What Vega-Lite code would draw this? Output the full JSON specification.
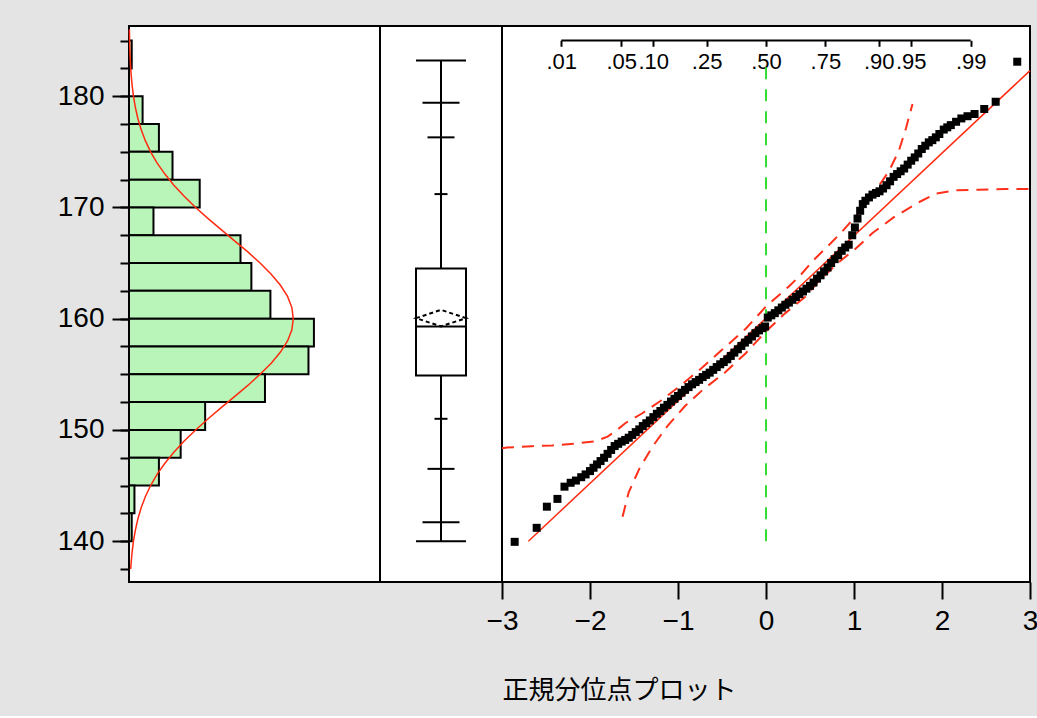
{
  "$schema": "https://vega.github.io/schema/vega-lite/v6.json",
  "background": "#e4e4e4",
  "padding": {"left": 56, "top": 25, "right": 0, "bottom": 12},
  "spacing": 0,
  "bounds": "flush",
  "datasets": {
    "hist": [
      {"lo": 182.5, "hi": 185, "count": 1},
      {"lo": 177.5, "hi": 180, "count": 5},
      {"lo": 175, "hi": 177.5, "count": 11},
      {"lo": 172.5, "hi": 175, "count": 16},
      {"lo": 170, "hi": 172.5, "count": 26},
      {"lo": 167.5, "hi": 170, "count": 9},
      {"lo": 165, "hi": 167.5, "count": 41},
      {"lo": 162.5, "hi": 165, "count": 45},
      {"lo": 160, "hi": 162.5, "count": 52},
      {"lo": 157.5, "hi": 160, "count": 68},
      {"lo": 155, "hi": 157.5, "count": 66},
      {"lo": 152.5, "hi": 155, "count": 50},
      {"lo": 150, "hi": 152.5, "count": 28},
      {"lo": 147.5, "hi": 150, "count": 19},
      {"lo": 145, "hi": 147.5, "count": 11},
      {"lo": 142.5, "hi": 145, "count": 2},
      {"lo": 140, "hi": 142.5, "count": 1}
    ],
    "curve": [
      {"v": 137.5, "density": 0.63}, {"v": 138, "density": 0.77}, {"v": 139, "density": 1.14},
      {"v": 140, "density": 1.64}, {"v": 141, "density": 2.34}, {"v": 142, "density": 3.26},
      {"v": 143, "density": 4.47}, {"v": 144, "density": 6.0}, {"v": 145, "density": 7.95},
      {"v": 146, "density": 10.3}, {"v": 147, "density": 13.2}, {"v": 148, "density": 16.5},
      {"v": 149, "density": 20.3}, {"v": 150, "density": 24.5}, {"v": 151, "density": 29.1},
      {"v": 152, "density": 33.9}, {"v": 153, "density": 38.8}, {"v": 154, "density": 43.7},
      {"v": 155, "density": 48.2}, {"v": 156, "density": 52.3}, {"v": 157, "density": 55.7},
      {"v": 158, "density": 58.3}, {"v": 159, "density": 59.9}, {"v": 160, "density": 60.4},
      {"v": 161, "density": 59.9}, {"v": 162, "density": 58.3}, {"v": 163, "density": 55.7},
      {"v": 164, "density": 52.3}, {"v": 165, "density": 48.2}, {"v": 166, "density": 43.7},
      {"v": 167, "density": 38.8}, {"v": 168, "density": 33.9}, {"v": 169, "density": 29.1},
      {"v": 170, "density": 24.5}, {"v": 171, "density": 20.3}, {"v": 172, "density": 16.5},
      {"v": 173, "density": 13.2}, {"v": 174, "density": 10.3}, {"v": 175, "density": 7.95},
      {"v": 176, "density": 6.0}, {"v": 177, "density": 4.47}, {"v": 178, "density": 3.26},
      {"v": 179, "density": 2.34}, {"v": 180, "density": 1.64}, {"v": 181, "density": 1.14},
      {"v": 182, "density": 0.77}, {"v": 183, "density": 0.51}, {"v": 184, "density": 0.34},
      {"v": 185, "density": 0.22}, {"v": 186, "density": 0.14}
    ],
    "box": [
      {"group": "h", "min": 140.0, "p005": 141.7, "p025": 146.5, "p10": 151.0, "q1": 154.9, "median": 159.3, "q3": 164.5, "p90": 171.2, "p975": 176.3, "p995": 179.4, "max": 183.2, "mean": 160.05}
    ],
    "ref": [{"z": 0, "lo": 140.0, "hi": 183.2}],
    "fit": [{"z": -2.7, "v": 140.0}, {"z": 3.0, "v": 182.3}],
    "probaxis": [{"z_lo": -2.3263, "z_hi": 2.3263, "v": 185.0}],
    "bands": [
      {"band": "A", "z": -3.0, "v": 148.35}, {"band": "A", "z": -2.94, "v": 148.42}, {"band": "A", "z": -2.66, "v": 148.54},
      {"band": "A", "z": -2.43, "v": 148.6}, {"band": "A", "z": -2.16, "v": 148.78}, {"band": "A", "z": -1.935, "v": 148.99},
      {"band": "A", "z": -1.8, "v": 149.4}, {"band": "A", "z": -1.71, "v": 149.89}, {"band": "A", "z": -1.6, "v": 150.6},
      {"band": "A", "z": -1.405, "v": 151.5}, {"band": "A", "z": -1.2, "v": 152.6}, {"band": "A", "z": -0.97, "v": 154.0},
      {"band": "A", "z": -0.74, "v": 155.5}, {"band": "A", "z": -0.5, "v": 157.2}, {"band": "A", "z": -0.23, "v": 159.1},
      {"band": "A", "z": 0.0, "v": 161.1}, {"band": "A", "z": 0.26, "v": 162.9}, {"band": "A", "z": 0.39, "v": 163.9},
      {"band": "A", "z": 0.545, "v": 165.3}, {"band": "A", "z": 0.7, "v": 166.5}, {"band": "A", "z": 0.85, "v": 167.7},
      {"band": "A", "z": 1.02, "v": 169.2}, {"band": "A", "z": 1.21, "v": 171.1}, {"band": "A", "z": 1.4, "v": 173.3},
      {"band": "A", "z": 1.51, "v": 175.1}, {"band": "A", "z": 1.59, "v": 177.1}, {"band": "A", "z": 1.665, "v": 179.3},
      {"band": "B", "z": -1.63, "v": 142.2}, {"band": "B", "z": -1.56, "v": 144.4}, {"band": "B", "z": -1.44, "v": 146.5},
      {"band": "B", "z": -1.29, "v": 148.5}, {"band": "B", "z": -1.12, "v": 150.35}, {"band": "B", "z": -0.92, "v": 152.15},
      {"band": "B", "z": -0.72, "v": 153.6}, {"band": "B", "z": -0.46, "v": 155.2}, {"band": "B", "z": -0.23, "v": 156.9},
      {"band": "B", "z": 0.0, "v": 158.85}, {"band": "B", "z": 0.22, "v": 160.5}, {"band": "B", "z": 0.45, "v": 162.0},
      {"band": "B", "z": 0.58, "v": 163.2}, {"band": "B", "z": 0.8, "v": 164.9}, {"band": "B", "z": 1.02, "v": 166.3},
      {"band": "B", "z": 1.21, "v": 167.7}, {"band": "B", "z": 1.45, "v": 169.1}, {"band": "B", "z": 1.72, "v": 170.4},
      {"band": "B", "z": 1.93, "v": 171.25}, {"band": "B", "z": 2.16, "v": 171.55}, {"band": "B", "z": 2.42, "v": 171.6},
      {"band": "B", "z": 2.72, "v": 171.65}, {"band": "B", "z": 3.0, "v": 171.67}
    ],
    "qq": [
      {"z": -2.856, "v": 139.94}, {"z": -2.606, "v": 141.2}, {"z": -2.49, "v": 143.1}, {"z": -2.37, "v": 143.8},
      {"z": -2.29, "v": 144.9}, {"z": -2.22, "v": 145.25}, {"z": -2.16, "v": 145.45}, {"z": -2.1, "v": 145.75},
      {"z": -2.05, "v": 146.0}, {"z": -2.0, "v": 146.3}, {"z": -1.96, "v": 146.6}, {"z": -1.92, "v": 146.9},
      {"z": -1.88, "v": 147.2}, {"z": -1.84, "v": 147.5}, {"z": -1.8, "v": 147.85}, {"z": -1.76, "v": 148.2},
      {"z": -1.72, "v": 148.55}, {"z": -1.68, "v": 148.75}, {"z": -1.64, "v": 148.95}, {"z": -1.6, "v": 149.1},
      {"z": -1.56, "v": 149.3}, {"z": -1.52, "v": 149.55}, {"z": -1.48, "v": 149.8}, {"z": -1.44, "v": 150.05},
      {"z": -1.4, "v": 150.35}, {"z": -1.36, "v": 150.6}, {"z": -1.32, "v": 150.85}, {"z": -1.28, "v": 151.15},
      {"z": -1.24, "v": 151.45}, {"z": -1.2, "v": 151.7}, {"z": -1.16, "v": 152.0}, {"z": -1.12, "v": 152.25},
      {"z": -1.08, "v": 152.55}, {"z": -1.04, "v": 152.8}, {"z": -1.0, "v": 153.05}, {"z": -0.96, "v": 153.35},
      {"z": -0.92, "v": 153.6}, {"z": -0.88, "v": 153.85}, {"z": -0.84, "v": 154.1}, {"z": -0.8, "v": 154.3},
      {"z": -0.76, "v": 154.5}, {"z": -0.72, "v": 154.75}, {"z": -0.68, "v": 154.95}, {"z": -0.64, "v": 155.15},
      {"z": -0.6, "v": 155.4}, {"z": -0.56, "v": 155.65}, {"z": -0.52, "v": 155.9}, {"z": -0.48, "v": 156.1},
      {"z": -0.44, "v": 156.35}, {"z": -0.4, "v": 156.65}, {"z": -0.36, "v": 156.95}, {"z": -0.32, "v": 157.25},
      {"z": -0.28, "v": 157.55}, {"z": -0.24, "v": 157.85}, {"z": -0.2, "v": 158.1}, {"z": -0.16, "v": 158.4},
      {"z": -0.12, "v": 158.7}, {"z": -0.08, "v": 158.95}, {"z": -0.04, "v": 159.15}, {"z": -0.01, "v": 159.3},
      {"z": 0.02, "v": 160.1}, {"z": 0.06, "v": 160.3}, {"z": 0.1, "v": 160.5}, {"z": 0.14, "v": 160.75},
      {"z": 0.18, "v": 161.0}, {"z": 0.22, "v": 161.25}, {"z": 0.26, "v": 161.45}, {"z": 0.3, "v": 161.7},
      {"z": 0.34, "v": 161.95}, {"z": 0.38, "v": 162.2}, {"z": 0.42, "v": 162.45}, {"z": 0.46, "v": 162.7},
      {"z": 0.5, "v": 162.95}, {"z": 0.54, "v": 163.25}, {"z": 0.58, "v": 163.6}, {"z": 0.62, "v": 163.9},
      {"z": 0.66, "v": 164.25}, {"z": 0.7, "v": 164.6}, {"z": 0.74, "v": 165.0}, {"z": 0.78, "v": 165.35},
      {"z": 0.82, "v": 165.7}, {"z": 0.86, "v": 166.1}, {"z": 0.9, "v": 166.4}, {"z": 0.94, "v": 166.65},
      {"z": 0.98, "v": 167.5}, {"z": 1.01, "v": 168.2}, {"z": 1.04, "v": 169.0}, {"z": 1.07, "v": 169.7},
      {"z": 1.1, "v": 170.3}, {"z": 1.13, "v": 170.6}, {"z": 1.17, "v": 170.9}, {"z": 1.21, "v": 171.15},
      {"z": 1.25, "v": 171.3}, {"z": 1.29, "v": 171.45}, {"z": 1.33, "v": 171.7}, {"z": 1.37, "v": 172.0},
      {"z": 1.41, "v": 172.35}, {"z": 1.45, "v": 172.75}, {"z": 1.49, "v": 173.0}, {"z": 1.53, "v": 173.25},
      {"z": 1.57, "v": 173.5}, {"z": 1.61, "v": 173.85}, {"z": 1.65, "v": 174.2}, {"z": 1.69, "v": 174.5},
      {"z": 1.73, "v": 174.85}, {"z": 1.77, "v": 175.25}, {"z": 1.81, "v": 175.55}, {"z": 1.85, "v": 175.85},
      {"z": 1.89, "v": 176.05}, {"z": 1.93, "v": 176.3}, {"z": 1.97, "v": 176.6}, {"z": 2.02, "v": 177.0},
      {"z": 2.06, "v": 177.2}, {"z": 2.1, "v": 177.4}, {"z": 2.16, "v": 177.7}, {"z": 2.22, "v": 178.0},
      {"z": 2.29, "v": 178.2}, {"z": 2.37, "v": 178.4}, {"z": 2.48, "v": 178.85}, {"z": 2.61, "v": 179.5},
      {"z": 2.855, "v": 183.1}
    ]
  },
  "hconcat": [
    {
      "width": 251,
      "height": 556,
      "layer": [
        {
          "data": {"name": "hist"},
          "mark": {"type": "rect", "fill": "#b9f5b9", "stroke": "black", "strokeWidth": 2},
          "encoding": {
            "x": {"field": "count", "type": "quantitative", "scale": {"domain": [0, 92.3], "nice": false, "zero": false}, "axis": null},
            "x2": {"datum": 0},
            "y": {"field": "lo", "type": "quantitative", "scale": {"domain": [136.33, 186.31], "nice": false, "zero": false},
                  "axis": {"orient": "left", "values": [140, 150, 160, 170, 180], "tickSize": 17, "tickWidth": 2, "labelFontSize": 28, "labelPadding": 8, "domain": false, "title": null, "labelFont": "Liberation Sans", "labelColor": "black"}},
            "y2": {"field": "hi"}
          }
        },
        {
          "data": {"name": "curve"},
          "mark": {"type": "line", "color": "#ff2a10", "strokeWidth": 1.5},
          "encoding": {
            "x": {"field": "density", "type": "quantitative", "axis": null},
            "y": {"field": "v", "type": "quantitative",
                  "axis": {"orient": "left", "values": [137.5, 140, 142.5, 145, 147.5, 150, 152.5, 155, 157.5, 160, 162.5, 165, 167.5, 170, 172.5, 175, 177.5, 180, 182.5, 185], "tickSize": 9, "tickWidth": 2, "labels": false, "domain": false, "title": null}},
            "order": {"field": "v", "type": "quantitative"}
          }
        }
      ],
      "resolve": {"axis": {"y": "independent"}}
    },
    {
      "width": 122,
      "height": 556,
      "data": {"name": "box"},
      "encoding": {
        "x": {"field": "group", "type": "nominal", "scale": {"type": "band", "paddingInner": 0, "paddingOuter": 0.72}, "axis": null}
      },
      "layer": [
        {
          "mark": {"type": "rule", "color": "black", "strokeWidth": 2},
          "encoding": {
            "y": {"field": "min", "type": "quantitative", "scale": {"domain": [136.33, 186.31], "nice": false, "zero": false}, "axis": null},
            "y2": {"field": "max"}
          }
        },
        {
          "mark": {"type": "rect", "fill": "white", "stroke": "black", "strokeWidth": 2},
          "encoding": {
            "y": {"field": "q1", "type": "quantitative"},
            "y2": {"field": "q3"}
          }
        },
        {
          "transform": [{"fold": ["min", "max", "median"], "as": ["stat", "value"]}],
          "mark": {"type": "tick", "color": "black", "thickness": 2, "size": 50, "opacity": 1},
          "encoding": {"y": {"field": "value", "type": "quantitative"}}
        },
        {
          "transform": [{"fold": ["p005", "p995"], "as": ["stat", "value"]}],
          "mark": {"type": "tick", "color": "black", "thickness": 2, "size": 37, "opacity": 1},
          "encoding": {"y": {"field": "value", "type": "quantitative"}}
        },
        {
          "transform": [{"fold": ["p025", "p975"], "as": ["stat", "value"]}],
          "mark": {"type": "tick", "color": "black", "thickness": 2, "size": 27, "opacity": 1},
          "encoding": {"y": {"field": "value", "type": "quantitative"}}
        },
        {
          "transform": [{"fold": ["p10", "p90"], "as": ["stat", "value"]}],
          "mark": {"type": "tick", "color": "black", "thickness": 2, "size": 13, "opacity": 1},
          "encoding": {"y": {"field": "value", "type": "quantitative"}}
        },
        {
          "mark": {"type": "point", "shape": "M-1,0L0,-0.33L1,0L0,0.33Z", "size": 2500, "filled": false, "stroke": "black", "strokeWidth": 2, "strokeDash": [4, 3], "opacity": 1},
          "encoding": {"y": {"field": "mean", "type": "quantitative"}}
        }
      ]
    },
    {
      "width": 528,
      "height": 556,
      "layer": [
        {
          "data": {"name": "ref"},
          "mark": {"type": "rule", "color": "#33dd33", "strokeWidth": 2, "strokeDash": [12, 10]},
          "encoding": {
            "x": {"field": "z", "type": "quantitative", "scale": {"domain": [-3, 3], "nice": false, "zero": false}, "axis": null},
            "y": {"field": "lo", "type": "quantitative", "scale": {"domain": [136.33, 186.31], "nice": false, "zero": false}, "axis": null},
            "y2": {"field": "hi"}
          }
        },
        {
          "data": {"name": "bands"},
          "mark": {"type": "line", "color": "#ff3019", "strokeWidth": 2, "strokeDash": [12, 8]},
          "encoding": {
            "x": {"field": "z", "type": "quantitative", "axis": null},
            "y": {"field": "v", "type": "quantitative", "axis": null},
            "detail": {"field": "band", "type": "nominal"}
          }
        },
        {
          "data": {"name": "fit"},
          "mark": {"type": "line", "color": "#ff2a10", "strokeWidth": 1.5},
          "encoding": {
            "x": {"field": "z", "type": "quantitative", "axis": null},
            "y": {"field": "v", "type": "quantitative", "axis": null}
          }
        },
        {
          "data": {"name": "qq"},
          "mark": {"type": "point", "shape": "square", "filled": true, "color": "black", "size": 64, "opacity": 1},
          "encoding": {
            "x": {"field": "z", "type": "quantitative",
                  "axis": {"orient": "bottom", "values": [-3, -2, -1, 0, 1, 2, 3], "tickSize": 17, "tickWidth": 2, "domain": false, "labelFontSize": 28, "labelFont": "Liberation Sans", "labelColor": "black", "labelPadding": 8, "labelFlush": false, "labelOverlap": false,
                           "title": "正規分位点プロット", "titleFont": "Noto Sans CJK JP", "titleFontSize": 26, "titleFontWeight": "normal", "titleColor": "black", "titleAnchor": "start", "titleAlign": "left", "titlePadding": 42}},
            "y": {"field": "v", "type": "quantitative", "axis": null}
          }
        },
        {
          "data": {"name": "probaxis"},
          "mark": {"type": "rule", "color": "black", "strokeWidth": 2},
          "encoding": {
            "x": {"field": "z_lo", "type": "quantitative",
                  "axis": {"orient": "bottom", "offset": -541.7, "values": [-2.3263, -1.6449, -1.2816, -0.6745, 0, 0.6745, 1.2816, 1.6449, 2.3263],
                           "labelExpr": "datum.value < -2 ? '.01' : datum.value < -1.5 ? '.05' : datum.value < -1 ? '.10' : datum.value < -0.5 ? '.25' : datum.value < 0.5 ? '.50' : datum.value < 1 ? '.75' : datum.value < 1.5 ? '.90' : datum.value < 2 ? '.95' : '.99'",
                           "tickSize": 6, "tickWidth": 2, "domain": false, "labelFontSize": 22, "labelFont": "Liberation Sans", "labelColor": "black", "labelPadding": 5, "labelOverlap": false, "labelFlush": false, "title": null}},
            "x2": {"field": "z_hi"},
            "y": {"field": "v", "type": "quantitative", "axis": null}
          }
        }
      ],
      "resolve": {"axis": {"x": "independent"}}
    }
  ],
  "config": {
    "view": {"fill": "white", "stroke": "black", "strokeWidth": 2},
    "axis": {"grid": false, "tickColor": "black", "labelColor": "black", "labelFont": "Liberation Sans"}
  }
}
